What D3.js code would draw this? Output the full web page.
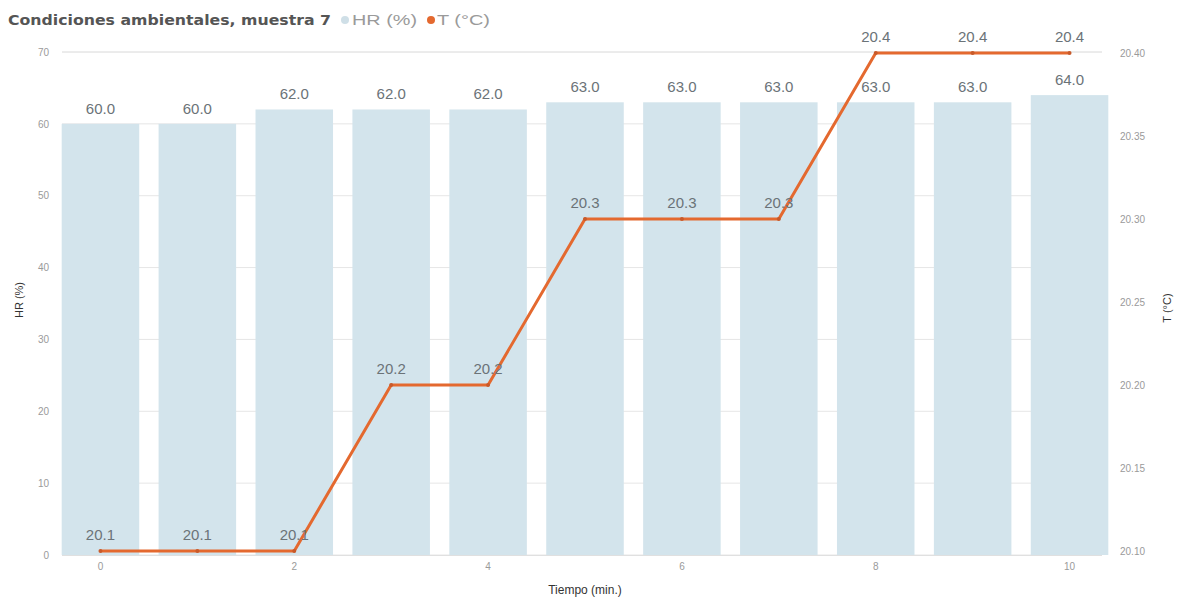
<!DOCTYPE html>
<html>
<head>
<meta charset="utf-8">
<script src="https://cdn.jsdelivr.net/npm/d3@7"></script>
<style>
  html, body { margin: 0; padding: 0; background: #fff; }
  svg { display: block; font-family: "Liberation Sans", Arial, sans-serif; }
</style>
</head>
<body>
<svg id="chart" width="1177" height="598"></svg>
<script>
// Minutes sampled and readings at each minute
const minutes = [0, 1, 2, 3, 4, 5, 6, 7, 8, 9, 10];
const humidity = [60, 60, 62, 62, 62, 63, 63, 63, 63, 63, 64];
const temperature = [20.1, 20.1, 20.1, 20.2, 20.2, 20.3, 20.3, 20.3, 20.4, 20.4, 20.4];
const hrTicks = [0, 10, 20, 30, 40, 50, 60, 70];
const tTicks = [20.10, 20.15, 20.20, 20.25, 20.30, 20.35, 20.40];
const xTickLabels = [0, 2, 4, 6, 8, 10];

const barColor = "#d3e4ec";
const lineColor = "#e4692f";
const labelColor = "#6b7378";
const tickColor = "#9a9a9a";

const svg = d3.select("#chart");

const x = d3.scaleBand().domain(minutes).range([52, 1118])
  .paddingInner(0.2).paddingOuter(0.1);
const yHR = d3.scaleLinear().domain([0, 70]).range([555, 52]);
const yT = d3.scaleLinear().domain([20.1, 20.4]).range([551, 53]);

// Horizontal gridlines
svg.append("g").selectAll("line").data(hrTicks).join("line")
  .attr("x1", 62).attr("x2", 1102)
  .attr("y1", d => yHR(d)).attr("y2", d => yHR(d))
  .attr("stroke", d => d === 70 ? "#d8d8d8" : "#e6e6e6")
  .attr("stroke-width", 1);

// Humidity bars
svg.append("g").selectAll("rect").data(minutes).join("rect")
  .attr("x", d => x(d))
  .attr("width", x.bandwidth())
  .attr("y", (d, i) => yHR(humidity[i]))
  .attr("height", (d, i) => yHR(0) - yHR(humidity[i]))
  .attr("fill", barColor);

// Baseline
svg.append("line").attr("x1", 62).attr("x2", 1102)
  .attr("y1", yHR(0) + 0.5).attr("y2", yHR(0) + 0.5)
  .attr("stroke", "#e0e0e0");

// Bar value labels
svg.append("g").selectAll("text").data(minutes).join("text")
  .attr("x", d => x(d) + x.bandwidth() / 2)
  .attr("y", (d, i) => yHR(humidity[i]) - 10)
  .attr("text-anchor", "middle")
  .attr("font-size", 15)
  .attr("fill", labelColor)
  .text((d, i) => humidity[i].toFixed(1));

// Temperature line
const line = d3.line()
  .x((d, i) => x(minutes[i]) + x.bandwidth() / 2)
  .y(d => yT(d));
svg.append("path").datum(temperature)
  .attr("d", line)
  .attr("fill", "none")
  .attr("stroke", lineColor)
  .attr("stroke-width", 3)
  .attr("stroke-linejoin", "round");

svg.append("g").selectAll("circle").data(temperature).join("circle")
  .attr("cx", (d, i) => x(minutes[i]) + x.bandwidth() / 2)
  .attr("cy", d => yT(d))
  .attr("r", 2)
  .attr("fill", "#c85a2a");

// Temperature value labels
svg.append("g").selectAll("text").data(temperature).join("text")
  .attr("x", (d, i) => x(minutes[i]) + x.bandwidth() / 2)
  .attr("y", d => yT(d) - 11)
  .attr("text-anchor", "middle")
  .attr("font-size", 15)
  .attr("fill", labelColor)
  .text(d => d.toFixed(1));

// Left axis (HR)
const leftAxis = d3.axisLeft(yHR).tickValues(hrTicks).tickSize(0).tickPadding(0);
svg.append("g").attr("transform", "translate(49,0)").call(leftAxis)
  .call(g => g.select(".domain").remove())
  .call(g => g.selectAll("text").attr("font-size", 10).attr("fill", tickColor)
    .attr("font-family", "Liberation Sans, Arial, sans-serif"));

// Right axis (T)
const rightAxis = d3.axisRight(yT).tickValues(tTicks).tickSize(0).tickPadding(0)
  .tickFormat(d3.format(".2f"));
svg.append("g").attr("transform", "translate(1120,0)").call(rightAxis)
  .call(g => g.select(".domain").remove())
  .call(g => g.selectAll("text").attr("font-size", 10).attr("fill", tickColor)
    .attr("font-family", "Liberation Sans, Arial, sans-serif"));

// Bottom axis (minutes)
const bottomAxis = d3.axisBottom(x).tickValues(xTickLabels).tickSize(0).tickPadding(0);
svg.append("g").attr("transform", "translate(0,563)").call(bottomAxis)
  .call(g => g.select(".domain").remove())
  .call(g => g.selectAll("text").attr("font-size", 10).attr("fill", tickColor)
    .attr("font-family", "Liberation Sans, Arial, sans-serif"));

// Axis titles
svg.append("text").attr("x", 585).attr("y", 594)
  .attr("text-anchor", "middle").attr("font-size", 12).attr("fill", "#333")
  .text("Tiempo (min.)");
svg.append("text")
  .attr("transform", "translate(23,300) rotate(-90)")
  .attr("text-anchor", "middle").attr("font-size", 11).attr("fill", "#333")
  .text("HR (%)");
svg.append("text")
  .attr("transform", "translate(1171,308) rotate(-90)")
  .attr("text-anchor", "middle").attr("font-size", 11).attr("fill", "#333")
  .text("T (°C)");

// Title and legend
svg.append("text").attr("x", 8).attr("y", 25)
  .attr("font-family", "DejaVu Sans, sans-serif")
  .attr("font-size", 14).attr("font-weight", "bold").attr("fill", "#555")
  .attr("textLength", 323).attr("lengthAdjust", "spacingAndGlyphs")
  .text("Condiciones ambientales, muestra 7");

const legend = [
  { name: "HR (%)", color: "#cfdfe7", cx: 345, tx: 352, w: 65 },
  { name: "T (°C)", color: lineColor, cx: 431, tx: 437, w: 53 }
];
const lg = svg.append("g");
lg.selectAll("circle").data(legend).join("circle")
  .attr("cx", d => d.cx).attr("cy", 20).attr("r", 4).attr("fill", d => d.color);
lg.selectAll("text").data(legend).join("text")
  .attr("x", d => d.tx).attr("y", 25)
  .attr("font-size", 14).attr("fill", "#9a9a9a")
  .attr("textLength", d => d.w).attr("lengthAdjust", "spacingAndGlyphs")
  .text(d => d.name);
</script>
</body>
</html>
